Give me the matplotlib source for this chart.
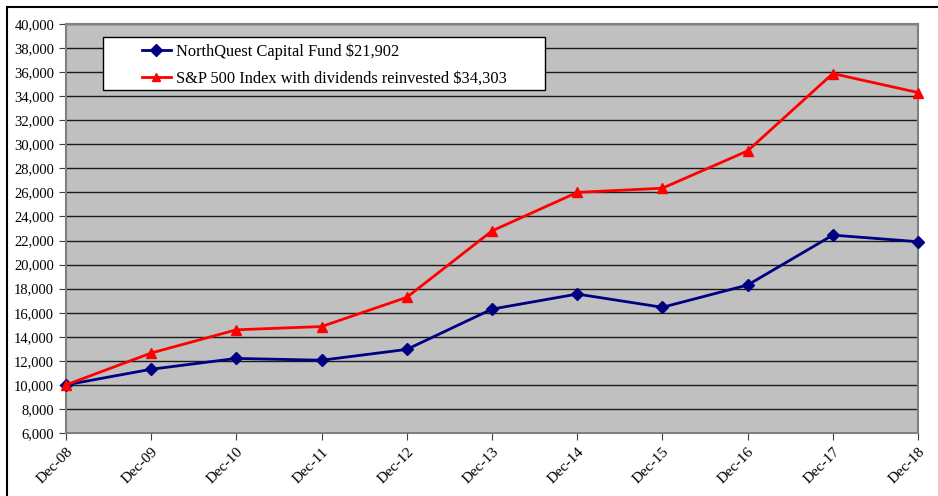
import matplotlib
matplotlib.use("Agg")
import matplotlib.pyplot as plt
from matplotlib.patches import Rectangle
from matplotlib.ticker import FuncFormatter, MultipleLocator

plt.rcParams['font.family'] = ['Liberation Serif', 'DejaVu Serif']

dates = ["Dec-08", "Dec-09", "Dec-10", "Dec-11", "Dec-12", "Dec-13",
         "Dec-14", "Dec-15", "Dec-16", "Dec-17", "Dec-18"]
northquest = [10000, 11300, 12200, 12050, 12950, 16300, 17550, 16450, 18300, 22450, 21902]
sp500 = [10000, 12650, 14580, 14850, 17280, 22800, 26000, 26350, 29450, 35880, 34303]
label_nq = "NorthQuest Capital Fund $21,902"
label_sp = "S&P 500 Index with dividends reinvested $34,303"

W, H = 938, 496
fig = plt.figure(figsize=(W / 100, H / 100), dpi=100)
fig.patches.append(Rectangle((7 / W, -0.1), 1.2, 1 - 7 / H + 0.1,
                             transform=fig.transFigure, fill=False,
                             edgecolor='black', linewidth=1.5))
L, R, T, B = 66, 918, 24, 433
ax = fig.add_axes([L / W, 1 - B / H, (R - L) / W, (B - T) / H])
ax.set_facecolor('#C0C0C0')
x = list(range(len(dates)))
ax.plot(x, northquest, color='#000080', marker='D', markersize=6.5, linewidth=2,
        label=label_nq, zorder=3, clip_on=False)
ax.plot(x, sp500, color='#FF0000', marker='^', markersize=6.5, linewidth=2,
        label=label_sp, zorder=3, clip_on=False)
ax.set_xlim(0, len(dates) - 1)
ax.set_ylim(6000, 40000)
ax.yaxis.set_major_locator(MultipleLocator(2000))
ax.yaxis.set_major_formatter(FuncFormatter(lambda v, p: f"{int(v):,}"))
ax.set_xticks(x)
ax.set_xticklabels(dates, rotation=45, ha='right', rotation_mode='anchor')
ax.grid(axis='y', color='#1a1a1a', linewidth=1)
ax.set_axisbelow(True)
for s in ax.spines.values():
    s.set_color('#808080')
    s.set_linewidth(1.5)
ax.tick_params(axis='both', length=5, color='#404040', direction='out')
ax.tick_params(axis='y', labelsize=10.5)
ax.tick_params(axis='x', labelsize=11, pad=4)

# legend frame
def ax_x(px):
    return (px - L) / (R - L)

def ax_y(py):
    return (B - py) / (B - T)

ax.add_patch(Rectangle((ax_x(103), ax_y(90)), ax_x(545) - ax_x(103), ax_y(37) - ax_y(90),
                       transform=ax.transAxes, facecolor='white', edgecolor='black',
                       linewidth=1, zorder=4))
leg = ax.legend(loc='upper left', bbox_to_anchor=(ax_x(142), ax_y(43)),
                frameon=False, fontsize=11.8, borderpad=0, borderaxespad=0,
                handlelength=1.75, handletextpad=0.3, labelspacing=0.68,
                markerscale=0.9)
leg.set_zorder(5)
fig.savefig("out.png", dpi=100)
